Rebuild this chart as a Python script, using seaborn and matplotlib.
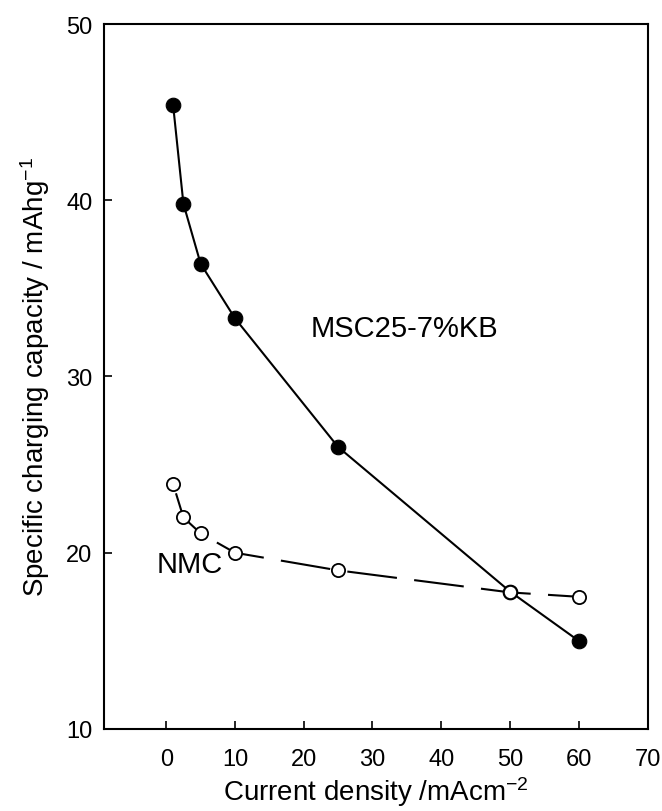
import matplotlib
matplotlib.use("Agg")
import matplotlib.pyplot as plt
import seaborn as sns
import pandas as pd

# Current density (mA cm^-2) and specific charging capacity (mAh g^-1)
current_density = [1, 2.5, 5, 10, 25, 50, 60]
msc_capacity = [45.4, 39.8, 36.4, 33.3, 26.0, 17.8, 15.0]
nmc_capacity = [23.9, 22.0, 21.1, 20.0, 19.0, 17.75, 17.5]

x_ticks = [0, 10, 20, 30, 40, 50, 60, 70]
y_ticks = [10, 20, 30, 40, 50]

sns.set_style("white")
plt.rcParams["font.family"] = ["Liberation Sans", "DejaVu Sans"]
plt.rcParams["mathtext.fontset"] = "custom"
plt.rcParams["mathtext.rm"] = "Liberation Sans"
plt.rcParams["mathtext.default"] = "regular"
plt.rcParams["lines.scale_dashes"] = False
plt.rcParams["text.color"] = "black"
plt.rcParams["axes.labelcolor"] = "black"
plt.rcParams["xtick.color"] = "black"
plt.rcParams["ytick.color"] = "black"

msc = pd.DataFrame({"x": current_density, "y": msc_capacity})
nmc = pd.DataFrame({"x": current_density, "y": nmc_capacity})

fig = plt.figure(figsize=(6.62, 8.12), dpi=100)
ax = fig.add_axes([0.1566, 0.1010, 0.8215, 0.8682])

sns.lineplot(data=msc, x="x", y="y", ax=ax, color="black", linewidth=1.5,
             marker="o", markersize=10.5, markerfacecolor="black",
             markeredgecolor="black", markeredgewidth=0.8, zorder=3)
sns.lineplot(data=nmc, x="x", y="y", ax=ax, color="black", linewidth=1.5,
             linestyle=(41.5, (36, 12.5)),
             marker="o", markersize=9.5, markerfacecolor="white",
             markeredgecolor="black", markeredgewidth=1.3, zorder=4)

ax.set_xlim(-9.1, 70)
ax.set_ylim(10, 50)
ax.set_xticks(x_ticks)
ax.set_yticks(y_ticks)
ax.tick_params(axis="both", direction="in", length=6, width=1.2,
               labelsize=17, colors="black", bottom=True, left=True)
ax.tick_params(axis="x", pad=14)
ax.tick_params(axis="y", pad=8)

for side in ["left", "right", "top", "bottom"]:
    ax.spines[side].set_visible(True)
    ax.spines[side].set_color("black")
    ax.spines[side].set_linewidth(1.5)

ax.set_xlabel(r"Current density /mAcm$^{-2}$", fontsize=20, labelpad=3)
ax.set_ylabel(r"Specific charging capacity / mAhg$^{-1}$", fontsize=20,
              labelpad=10)

ax.text(21.0, 32.75, "MSC25-7%KB", fontsize=21, ha="left", va="center")
ax.text(-1.45, 19.36, "NMC", fontsize=21, ha="left", va="center")

fig.savefig("out.png", dpi=100)
